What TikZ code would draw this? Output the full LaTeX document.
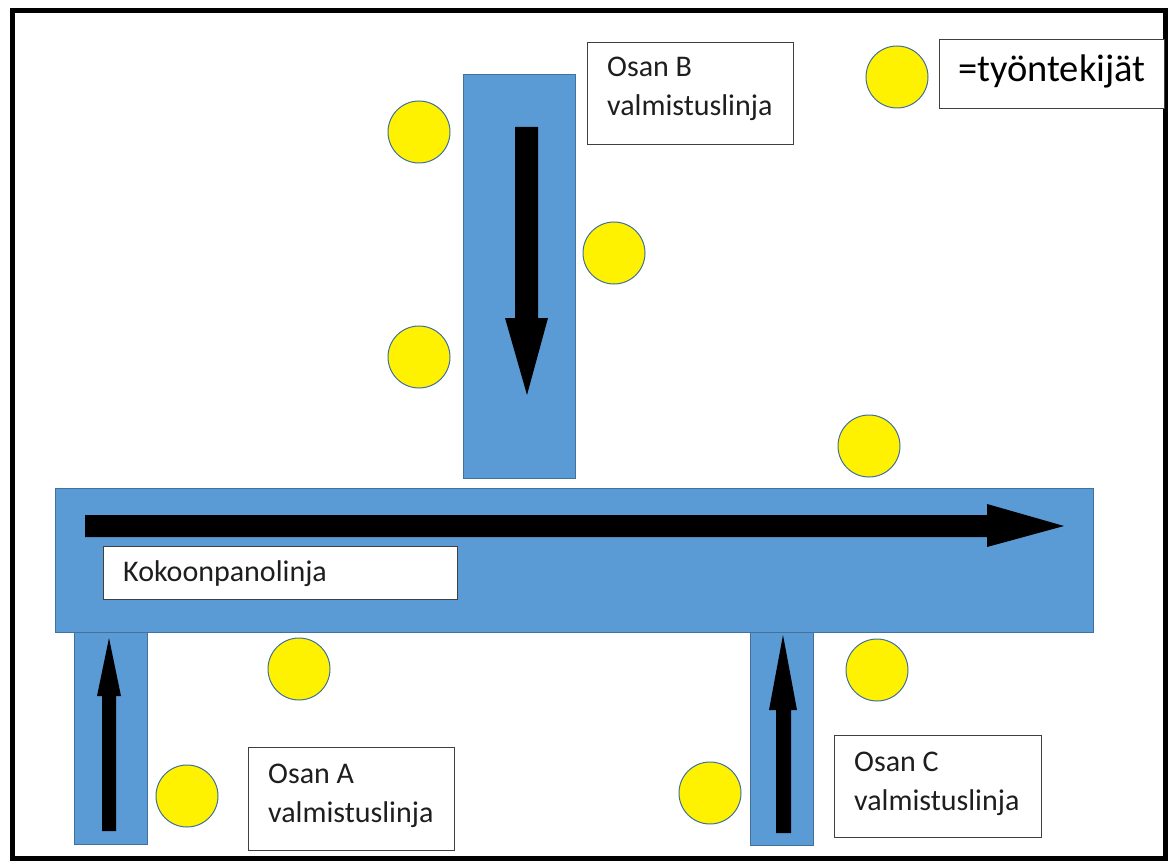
\documentclass[tikz,border=0pt]{standalone}
\usepackage{fontspec}
\setmainfont{Carlito}
\definecolor{barblue}{RGB}{91,155,213}
\definecolor{bardark}{RGB}{65,113,156}
\definecolor{boxgray}{RGB}{64,64,64}
\definecolor{textgray}{RGB}{30,30,30}
\begin{document}
\begin{tikzpicture}[x=1pt,y=-1pt,
  bar/.style={fill=barblue, draw=bardark, line width=1pt},
  blockarrow/.style={fill=black, draw=none},
  worker/.style={circle, fill=yellow, draw=bardark, line width=1pt, minimum size=62pt, inner sep=0pt},
  labelbox/.style={rectangle, draw=boxgray, line width=1.3pt, fill=white, inner sep=0pt, anchor=north west},
  lbl/.style={anchor=base west, inner sep=0pt, align=left, font=\fontsize{30}{39}\selectfont, text=textgray}]
\useasboundingbox (0,0) rectangle (1176,861);
\fill[white] (0,0) rectangle (1176,861);
% frame
\draw[line width=5pt] (12.5,11) rectangle (1165.5,858);
% bars
\path[bar] (463,75) rectangle (575,478);
\path[bar] (74,632) rectangle (147,844);
\path[bar] (750,632) rectangle (813,845);
\path[bar] (55,488) rectangle (1093,632);
% block arrows
\fill[blockarrow] (85,515) -- (987,515) -- (987,504) -- (1064,526) -- (987,547) -- (987,537) -- (85,537) -- cycle;
\fill[blockarrow] (515,127) -- (515,318) -- (505,318) -- (527,395) -- (548,318) -- (538,318) -- (538,127) -- cycle;
\fill[blockarrow] (102,831) -- (102,696) -- (97,696) -- (109,638) -- (121,696) -- (116,696) -- (116,831) -- cycle;
\fill[blockarrow] (776,833) -- (776,710) -- (769,710) -- (783,635) -- (797,710) -- (791,710) -- (791,833) -- cycle;
% workers
\node[worker] (w1) at (419,132) {};
\node[worker] (w2) at (419,357) {};
\node[worker] (w3) at (614,253) {};
\node[worker] (w4) at (869,446) {};
\node[worker] (w5) at (299,669) {};
\node[worker] (w6) at (187,796) {};
\node[worker] (w7) at (710,793) {};
\node[worker] (w8) at (877,670) {};
\node[worker] (wl) at (897,77) {};
% label boxes
\node[labelbox, minimum width=206pt, minimum height=102pt] (boxB) at (587,42) {};
\node[labelbox, minimum width=225pt, minimum height=69pt] (legend) at (939,39) {};
\node[labelbox, minimum width=354pt, minimum height=53pt] (boxK) at (103,546) {};
\node[labelbox, minimum width=206pt, minimum height=103pt] (boxA) at (248,747) {};
\node[labelbox, minimum width=207pt, minimum height=102pt] (boxC) at (834,735) {};
% texts (base anchor = baseline of last line)
\node[lbl] (tB) at (607,116) {Osan B\\valmistuslinja};
\node[lbl, font=\fontsize{38.5}{44}\selectfont, text=black] (tL) at (958,82) {=työntekijät};
\node[lbl] (tK) at (123,581) {Kokoonpanolinja};
\node[lbl] (tA) at (268,822) {Osan A\\valmistuslinja};
\node[lbl] (tC) at (854,810) {Osan C\\valmistuslinja};
\end{tikzpicture}
\end{document}
